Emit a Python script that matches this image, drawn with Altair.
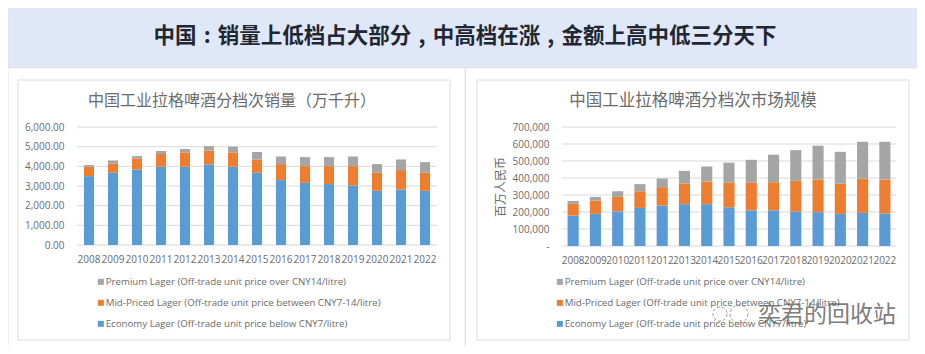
import altair as alt
import pandas as pd

years = [str(y) for y in [2008, 2009, 2010, 2011, 2012, 2013, 2014, 2015, 2016, 2017, 2018, 2019, 2020, 2021, 2022]]
series_names = [
    "Premium Lager (Off-trade unit price over CNY14/litre)",
    "Mid-Priced Lager (Off-trade unit price between CNY7-14/litre)",
    "Economy Lager (Off-trade unit price below CNY7/litre)",
]
series_colors = ["#A5A5A5", "#ED7D31", "#5B9BD5"]

vol_economy = [3500, 3670, 3840, 3980, 3980, 4100, 3980, 3670, 3300, 3160, 3100, 3030, 2755, 2820, 2750]
vol_mid = [480, 480, 560, 645, 730, 700, 730, 680, 815, 850, 910, 980, 915, 990, 920]
vol_premium = [85, 150, 120, 155, 170, 230, 290, 380, 385, 460, 460, 490, 445, 540, 545]

val_economy = [179000, 189000, 204000, 224000, 238000, 246000, 246000, 228000, 210000, 210000, 203000, 199000, 189000, 195000, 191000]
val_mid = [69000, 78000, 85000, 98000, 108000, 122000, 133000, 146000, 164000, 165000, 180000, 192000, 177000, 202000, 200000]
val_premium = [17000, 22000, 33000, 42000, 51000, 74000, 89000, 116000, 133000, 162000, 181000, 199000, 188000, 216000, 222000]

vol_ticks = [0, 1000, 2000, 3000, 4000, 5000, 6000]
val_ticks = [0, 100000, 200000, 300000, 400000, 500000, 600000, 700000]

headline = "中国\u2004:\u2004销量上低档占大部分\u2004,\u2004中高档在涨\u2004,\u2004金额上高中低三分天下"
left_title = "中国工业拉格啤酒分档次销量\uff08万千升\uff09"
right_title = "中国工业拉格啤酒分档次市场规模"
right_ytitle = "百万人民币"
watermark = "奕君的回收站"

W, H = 909, 338
CJK = "Noto Sans CJK SC"
LAT = "Open Sans"
TXT = "#6b6b6b"
LINE = "#e2e4e8"


def frame(x0, x1, y0, y1, fill, stroke):
    return alt.Chart(pd.DataFrame({"a": [0]})).mark_rect(fill=fill, stroke=stroke, strokeWidth=1).encode(
        x=alt.value(x0), x2=alt.value(x1), y=alt.value(y0), y2=alt.value(y1))


def label(text, x, y, size, color=TXT, weight="normal", font=CJK, **kw):
    return alt.Chart(pd.DataFrame({"t": [text]})).mark_text(
        font=font, fontSize=size, color=color, fontWeight=weight, **kw
    ).encode(x=alt.value(x), y=alt.value(y), text="t:N")


def panel(econ, mid, prem, ticks, xr, yr, pad, label_expr, legend_x, ytitle=None):
    rows = []
    for rank, (name, vals) in enumerate([(series_names[2], econ), (series_names[1], mid), (series_names[0], prem)]):
        for year, v in zip(years, vals):
            rows.append({"year": year, "series": name, "value": v, "rank": rank})
    df = pd.DataFrame(rows)
    yscale = alt.Scale(domain=[ticks[0], ticks[-1]], range=yr, nice=False)
    grid = alt.Chart(pd.DataFrame({"tick": ticks})).mark_rule(color="#d9d9d9", strokeWidth=1).encode(
        y=alt.Y("tick:Q", scale=yscale, axis=None),
        x=alt.value(xr[0]), x2=alt.value(xr[1]),
    )
    bars = alt.Chart(df).mark_bar().encode(
        x=alt.X("year:N", sort=years,
                scale=alt.Scale(domain=years, range=xr, paddingInner=pad, paddingOuter=pad / 2),
                axis=alt.Axis(orient="bottom", offset=yr[0] - H, title=None, labelAngle=0, labelOverlap=False,
                              domain=False, ticks=False, labelPadding=9, labelFont=LAT, labelFontSize=10,
                              labelColor=TXT, labelSeparation=0, labelBound=False, labelFlush=False, zindex=1)),
        y=alt.Y("value:Q", stack="zero", scale=yscale,
                axis=alt.Axis(orient="left", offset=-xr[0], values=ticks, grid=False, domain=False, ticks=False,
                              labelExpr=label_expr, labelPadding=13, labelFont=LAT, labelFontSize=10,
                              labelColor=TXT, title=ytitle, titleFont=CJK, titleFontSize=12,
                              titleFontWeight="normal", titleColor=TXT, titlePadding=5, zindex=1)),
        color=alt.Color("series:N",
                        scale=alt.Scale(domain=series_names, range=series_colors),
                        legend=alt.Legend(orient="none", legendX=legend_x, legendY=269, title=None, direction="vertical",
                                          symbolType="square", symbolSize=36, symbolStrokeWidth=0,
                                          labelFont=LAT, labelFontSize=9.7, labelColor=TXT, labelLimit=400,
                                          rowPadding=10, labelOffset=0, padding=0)),
        order=alt.Order("rank:Q"),
    )
    return [grid, bars]


left = panel(vol_economy, vol_mid, vol_premium, vol_ticks, [69, 429], [237, 119], 0.58,
             "format(datum.value, ',.2f')", 88)
right = panel(val_economy, val_mid, val_premium, val_ticks, [554, 888], [238, 119], 0.5,
              "datum.value === 0 ? '-' : format(datum.value, ',')", 547, right_ytitle)

background = [
    frame(0, W + 5, 0, 60, "#dfe7f9", LINE),
    frame(0, W + 5, 60, H + 5, "#ffffff", LINE),
    frame(457, 457.5, 60, H + 5, LINE, LINE),
    frame(10, 442, 72, 332, "#ffffff", "#dcdcdc"),
    frame(469, 901, 72, 332, "#ffffff", "#dcdcdc"),
    label(headline, 457, 29, 21.5, color="#1f2733", weight="bold", align="center", baseline="middle"),
    label(left_title, 224, 93, 16, align="center", baseline="middle"),
    label(right_title, 685, 93, 16.5, align="center", baseline="middle"),
]


def bubble(x, y, size):
    return alt.Chart(pd.DataFrame({"a": [0]})).mark_point(
        shape="circle", size=size, fill="#ffffff", fillOpacity=0.8, stroke="#8a8a8a", strokeWidth=0.9,
        strokeDash=[3, 2]
    ).encode(x=alt.value(x), y=alt.value(y))


overlay = [
    bubble(712, 306, 200),
    bubble(731, 306, 320),
    alt.Chart(pd.DataFrame({"t": [watermark]})).mark_text(
        font=CJK, fontSize=23, color="#ffffff", stroke="#ffffff", strokeWidth=2.5, align="left", baseline="middle"
    ).encode(x=alt.value(750), y=alt.value(307), text="t:N"),
    label(watermark, 750, 307, 23, color="#7d7d7d", align="left", baseline="middle"),
]

chart = alt.layer(*background, *left, *right, *overlay).resolve_scale(
    x="independent", y="independent", color="independent"
).properties(
    width=W, height=H, padding=0, autosize=alt.AutoSizeParams(type="none"), background="#ffffff"
).configure_view(stroke=None)

chart.save("out.html", embed_options={"renderer": "svg", "actions": False})
